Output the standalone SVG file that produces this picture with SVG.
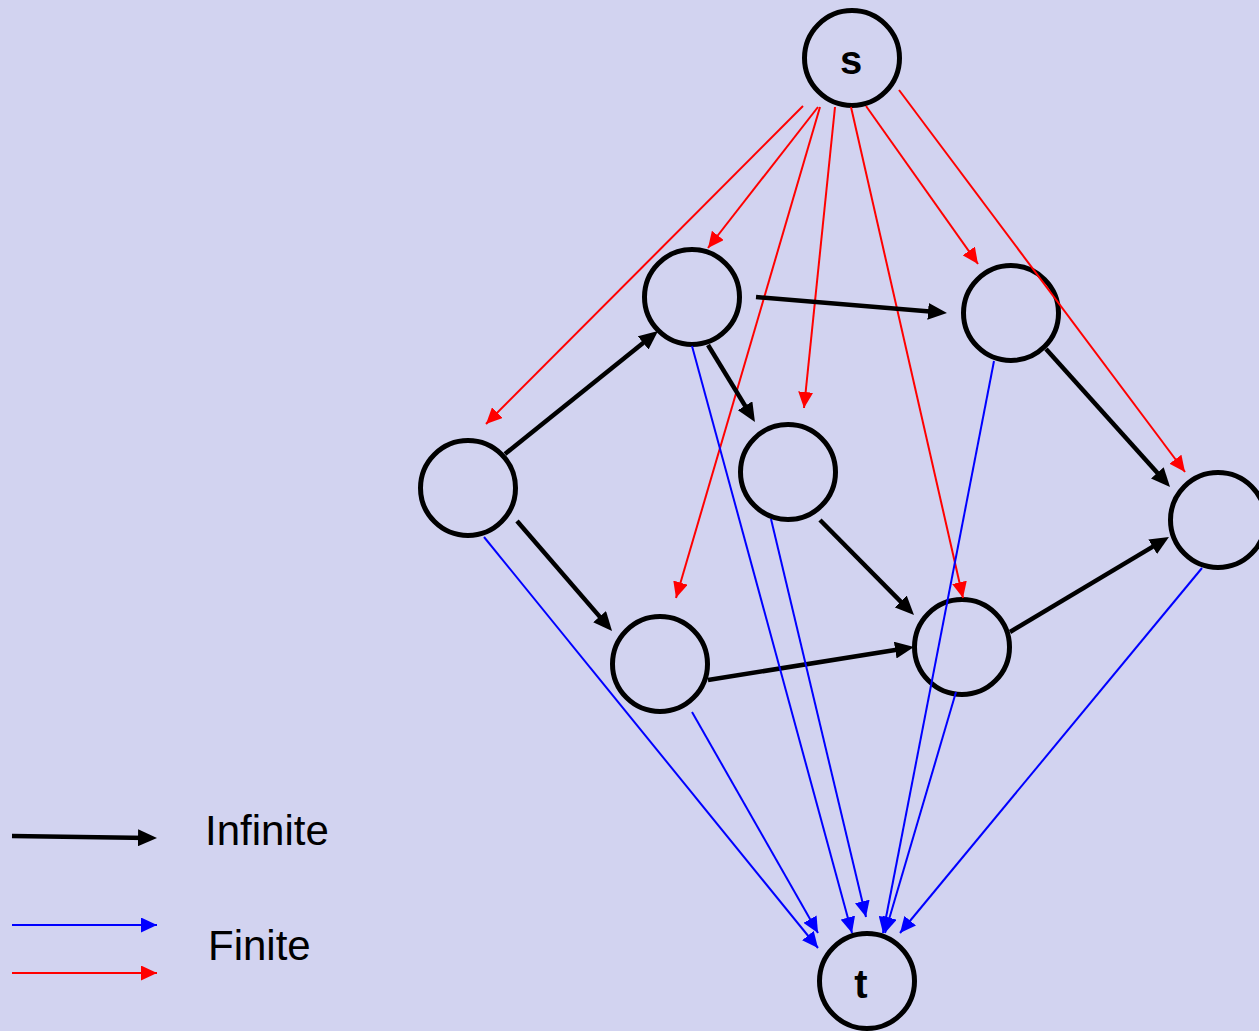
<svg xmlns="http://www.w3.org/2000/svg" width="1259" height="1031" viewBox="0 0 1259 1031">
<style>
.node{fill:none;stroke:#000;stroke-width:5}
.lbl{font-family:"Liberation Sans",Arial,sans-serif;font-weight:bold;font-size:40px;fill:#000;text-anchor:middle}
.leg{font-family:"Liberation Sans",Arial,sans-serif;font-size:42px;fill:#000}
.inf{stroke:#000;stroke-width:4.5;fill:none;marker-end:url(#ak)}
.fb{stroke:#0000FF;stroke-width:2;fill:none;marker-end:url(#ab)}
.fr{stroke:#FF0000;stroke-width:2;fill:none;marker-end:url(#ar)}
</style>
<defs>
<marker id="ak" markerUnits="userSpaceOnUse" markerWidth="19" markerHeight="17" refX="11" refY="8.5" orient="auto" viewBox="0 0 19 17"><path d="M0,0 L19,8.5 L0,17 z" fill="#000"/></marker>
<marker id="ab" markerUnits="userSpaceOnUse" markerWidth="16" markerHeight="15" refX="16" refY="7.5" orient="auto" viewBox="0 0 16 15"><path d="M0,0 L16,7.5 L0,15 z" fill="#0000FF"/></marker>
<marker id="ar" markerUnits="userSpaceOnUse" markerWidth="16" markerHeight="15" refX="16" refY="7.5" orient="auto" viewBox="0 0 16 15"><path d="M0,0 L16,7.5 L0,15 z" fill="#FF0000"/></marker>
</defs>
<rect x="0" y="0" width="1259" height="1031" fill="#D2D3F0"/>
<g id="node-s"><circle class="node" cx="852" cy="58" r="47.5"/><text class="lbl" x="851" y="74">s</text></g>
<g id="node-a"><circle class="node" cx="692" cy="297" r="47.5"/></g>
<g id="node-b"><circle class="node" cx="1011" cy="313" r="47.5"/></g>
<g id="node-c"><circle class="node" cx="468" cy="488" r="47.5"/></g>
<g id="node-d"><circle class="node" cx="788" cy="472" r="47.5"/></g>
<g id="node-e"><circle class="node" cx="1218" cy="520" r="47.5"/></g>
<g id="node-f"><circle class="node" cx="660" cy="664" r="47.5"/></g>
<g id="node-g"><circle class="node" cx="962" cy="647" r="47.5"/></g>
<g id="node-t"><circle class="node" cx="867" cy="981" r="47.5"/><text class="lbl" x="861" y="998">t</text></g>
<g id="connectors">
<line class="fr" x1="803" y1="106" x2="486" y2="424"/>
<line class="fr" x1="818" y1="107" x2="708" y2="248"/>
<line class="fr" x1="820" y1="107" x2="676" y2="598"/>
<line class="fr" x1="835" y1="107" x2="804" y2="408"/>
<line class="fr" x1="851" y1="107" x2="963" y2="598"/>
<line class="fr" x1="866" y1="106" x2="978" y2="264"/>
<line class="fr" x1="899" y1="90" x2="1185" y2="472"/>
<line class="inf" x1="505" y1="454" x2="651.8" y2="336"/>
<line class="inf" x1="517" y1="521" x2="606.8" y2="624.9"/>
<line class="inf" x1="756" y1="297" x2="939" y2="312.3"/>
<line class="inf" x1="708" y1="345" x2="750.8" y2="415.2"/>
<line class="inf" x1="820" y1="520" x2="908.4" y2="609.3"/>
<line class="inf" x1="708" y1="680" x2="906.1" y2="648.3"/>
<line class="inf" x1="1046" y1="349" x2="1164.7" y2="481"/>
<line class="inf" x1="1010" y1="632" x2="1162.1" y2="541.1"/>
<line class="fb" x1="484" y1="537" x2="818" y2="948"/>
<line class="fb" x1="692" y1="712" x2="818" y2="933"/>
<line class="fb" x1="692" y1="346" x2="852" y2="933"/>
<line class="fb" x1="771" y1="519" x2="866" y2="917"/>
<line class="fb" x1="994" y1="361" x2="883" y2="933"/>
<line class="fb" x1="956" y1="692" x2="885" y2="933"/>
<line class="fb" x1="1202" y1="568" x2="900" y2="933"/>
</g>
<g id="legend">
<line class="inf" x1="12" y1="836" x2="149" y2="837.9"/>
<line class="fb" x1="12" y1="925" x2="157" y2="925"/>
<line class="fr" x1="12" y1="973" x2="157" y2="973"/>
<text class="leg" x="205" y="845">Infinite</text>
<text class="leg" x="208" y="960">Finite</text>
</g>
</svg>
